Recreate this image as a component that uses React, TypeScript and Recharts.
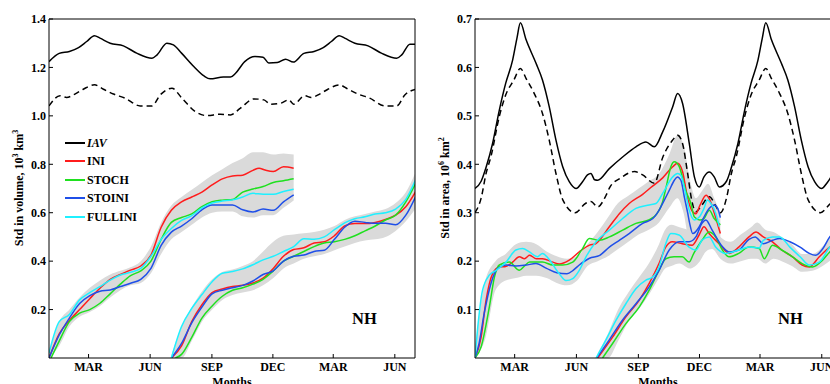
import React from 'react';
import { ComposedChart, Line, Area, XAxis, YAxis } from 'recharts';

type Pt = [number, number];
type Band = [number, number, number];

// x is in months from 1 Jan (18 months shown), y is the std
const X_MAX = 17.95;
const MONTH_TICKS = [1.94, 4.96, 7.99, 10.98, 13.94, 16.96];
const MONTH_LABELS = ['MAR', 'JUN', 'SEP', 'DEC', 'MAR', 'JUN'];
const VOL_TICKS = [0.2, 0.4, 0.6, 0.8, 1.0, 1.2, 1.4];
const AREA_TICKS = [0.1, 0.2, 0.3, 0.4, 0.5, 0.6, 0.7];

const SERIES_NAMES = ['IAV', 'INI', 'STOCH', 'STOINI', 'FULLINI'];
const SERIES_COLORS = ['#000000', '#ff1c1c', '#1fe01f', '#1f4fe8', '#1ff0ff'];
const BAND_COLOR = '#dadada';

// ---- volume panel ----
const volIavSolid: Pt[] = [[0,1.224],[0.5,1.258],[1,1.266],[1.45,1.282],[1.85,1.307],[2.23,1.331],[2.5,1.321],[3,1.3],[3.65,1.289],[4.3,1.259],[5.05,1.238],[5.3,1.252],[5.78,1.3],[6.1,1.293],[6.5,1.259],[7.1,1.204],[7.6,1.165],[7.9,1.153],[8.55,1.16],[8.9,1.16],[9.15,1.176],[9.6,1.224],[10.1,1.245],[10.5,1.242],[10.78,1.218],[11.2,1.22],[11.6,1.234],[11.98,1.222],[12.5,1.258],[13,1.266],[13.45,1.282],[13.85,1.307],[14.23,1.331],[14.5,1.321],[15,1.3],[15.65,1.289],[16.3,1.259],[17.05,1.238],[17.3,1.252],[17.7,1.296],[18,1.296]];
const volIavDashed: Pt[] = [[0,1.041],[0.54,1.083],[0.86,1.076],[1.27,1.09],[1.68,1.11],[2.23,1.128],[2.67,1.11],[3.16,1.09],[3.73,1.073],[4.47,1.041],[5.05,1.041],[5.46,1.087],[6.03,1.114],[6.52,1.073],[7.17,1.018],[7.74,1.001],[8.4,1.007],[8.9,1.004],[9.39,1.032],[10.05,1.07],[10.54,1.066],[10.86,1.048],[11.35,1.052],[11.76,1.066],[12,1.048],[12.54,1.083],[12.86,1.076],[13.27,1.09],[13.68,1.11],[14.23,1.128],[14.67,1.11],[15.16,1.09],[15.73,1.073],[16.47,1.041],[17.05,1.041],[17.46,1.087],[18,1.11]];

const volIniA: Pt[] = [[0,0],[0.5,0.1],[1,0.155],[1.5,0.2],[2,0.245],[2.5,0.288],[3,0.325],[3.5,0.345],[4,0.363],[4.5,0.38],[5,0.425],[5.5,0.54],[6,0.61],[6.5,0.645],[7,0.665],[7.5,0.685],[8,0.715],[8.5,0.74],[9,0.752],[9.5,0.755],[10,0.775],[10.3,0.784],[10.6,0.776],[11,0.77],[11.5,0.79],[12,0.784]];
const volStochA: Pt[] = [[0.1,0],[0.5,0.07],[1,0.15],[1.5,0.185],[2,0.2],[2.5,0.226],[3,0.265],[3.5,0.305],[4,0.34],[4.5,0.36],[5,0.4],[5.5,0.49],[6,0.56],[6.5,0.58],[7,0.595],[7.5,0.625],[8,0.645],[8.5,0.652],[9,0.655],[9.5,0.685],[10,0.698],[10.5,0.708],[11,0.725],[11.5,0.732],[12,0.74]];
const volStoiniA: Pt[] = [[0,0],[0.5,0.095],[1,0.165],[1.5,0.225],[2,0.258],[2.5,0.276],[3,0.281],[3.5,0.295],[4,0.309],[4.5,0.325],[5,0.37],[5.5,0.465],[6,0.52],[6.5,0.545],[7,0.575],[7.5,0.612],[8,0.632],[8.5,0.632],[9,0.632],[9.5,0.612],[10,0.603],[10.5,0.615],[11,0.61],[11.5,0.645],[12,0.674]];
const volFulliniA: Pt[] = [[0,0.02],[0.5,0.15],[1,0.18],[1.5,0.24],[2,0.27],[2.5,0.295],[3,0.322],[3.5,0.343],[4,0.354],[4.5,0.37],[5,0.42],[5.5,0.49],[6,0.535],[6.5,0.568],[7,0.588],[7.5,0.62],[8,0.64],[8.5,0.648],[9,0.653],[9.5,0.665],[10,0.68],[10.5,0.676],[11,0.676],[11.5,0.688],[12,0.697]];
const volBandA: Band[] = [[0,0,0.02],[0.5,0.05,0.15],[1,0.13,0.2],[1.5,0.17,0.25],[2,0.19,0.29],[2.5,0.215,0.32],[3,0.25,0.345],[3.5,0.28,0.36],[4,0.3,0.375],[4.5,0.31,0.4],[5,0.35,0.46],[5.5,0.43,0.56],[6,0.49,0.63],[6.5,0.52,0.665],[7,0.55,0.695],[7.5,0.58,0.725],[8,0.6,0.755],[8.5,0.605,0.78],[9,0.605,0.805],[9.5,0.585,0.825],[10,0.58,0.85],[10.5,0.59,0.85],[11,0.59,0.84],[11.5,0.62,0.845],[12,0.65,0.84]];

const volIniB: Pt[] = [[6,0],[6.5,0.05],[7,0.15],[7.5,0.22],[8,0.27],[8.5,0.285],[9,0.295],[9.5,0.3],[10,0.31],[10.5,0.33],[11,0.37],[11.5,0.42],[12,0.448],[12.5,0.455],[13,0.475],[13.5,0.48],[14,0.505],[14.5,0.545],[15,0.555],[15.5,0.555],[16,0.56],[16.5,0.572],[17,0.59],[17.5,0.625],[18,0.69]];
const volStochB: Pt[] = [[6.2,0],[6.5,0.015],[7,0.085],[7.5,0.165],[8,0.215],[8.5,0.255],[9,0.28],[9.5,0.29],[10,0.305],[10.5,0.325],[11,0.36],[11.5,0.4],[12,0.42],[12.5,0.44],[13,0.46],[13.5,0.475],[14,0.48],[14.5,0.49],[15,0.505],[15.5,0.525],[16,0.545],[16.5,0.57],[17,0.59],[17.5,0.645],[18,0.725]];
const volStoiniB: Pt[] = [[6,0],[6.5,0.06],[7,0.145],[7.5,0.21],[8,0.265],[8.5,0.28],[9,0.29],[9.5,0.3],[10,0.318],[10.5,0.345],[11,0.36],[11.5,0.4],[12,0.42],[12.5,0.425],[13,0.44],[13.5,0.445],[14,0.49],[14.5,0.54],[15,0.565],[15.5,0.56],[16,0.556],[16.5,0.556],[17,0.55],[17.5,0.59],[18,0.67]];
const volFulliniB: Pt[] = [[6,0],[6.5,0.13],[7,0.205],[7.5,0.262],[8,0.315],[8.5,0.35],[9,0.357],[9.5,0.368],[10,0.385],[10.5,0.405],[11,0.42],[11.5,0.44],[12,0.46],[12.5,0.492],[13,0.49],[13.5,0.5],[14,0.53],[14.5,0.558],[15,0.575],[15.5,0.583],[16,0.595],[16.5,0.6],[17,0.615],[17.5,0.655],[18,0.74]];
const volBandB: Band[] = [[6,0,0.01],[6.5,0,0.13],[7,0.07,0.21],[7.5,0.15,0.275],[8,0.2,0.325],[8.5,0.24,0.355],[9,0.26,0.365],[9.5,0.27,0.38],[10,0.28,0.4],[10.5,0.3,0.44],[11,0.33,0.48],[11.5,0.37,0.505],[12,0.39,0.51],[12.5,0.41,0.515],[13,0.42,0.52],[13.5,0.43,0.53],[14,0.445,0.545],[14.5,0.46,0.57],[15,0.475,0.585],[15.5,0.485,0.595],[16,0.49,0.605],[16.5,0.5,0.615],[17,0.525,0.64],[17.5,0.565,0.685],[18,0.62,0.77]];

// ---- area panel ----
const areaIavSolid: Pt[] = [[0,0.35],[0.3,0.365],[0.55,0.395],[0.86,0.443],[1.19,0.512],[1.5,0.567],[1.84,0.615],[2.05,0.66],[2.22,0.692],[2.5,0.657],[2.98,0.609],[3.3,0.574],[3.63,0.519],[3.96,0.45],[4.29,0.395],[4.61,0.364],[4.94,0.35],[5.26,0.364],[5.5,0.378],[5.67,0.381],[5.85,0.368],[6,0.367],[6.57,0.391],[7.22,0.415],[7.87,0.436],[8.36,0.446],[8.77,0.436],[9.18,0.467],[9.67,0.519],[9.91,0.546],[10.15,0.526],[10.48,0.443],[10.73,0.374],[10.97,0.353],[11.2,0.374],[11.46,0.384],[11.7,0.374],[11.95,0.353],[12.3,0.365],[12.55,0.395],[12.86,0.443],[13.19,0.512],[13.5,0.567],[13.84,0.615],[14.05,0.66],[14.22,0.692],[14.5,0.657],[14.98,0.609],[15.3,0.574],[15.63,0.519],[15.96,0.45],[16.29,0.395],[16.61,0.364],[16.94,0.35],[17.26,0.364],[17.5,0.378],[17.67,0.381],[17.85,0.368],[18,0.367]];
const areaIavDashed: Pt[] = [[0,0.3],[0.3,0.33],[0.54,0.381],[0.78,0.416],[1.19,0.499],[1.5,0.543],[1.9,0.574],[2.22,0.598],[2.5,0.577],[2.9,0.546],[3.3,0.505],[3.63,0.45],[3.96,0.381],[4.3,0.326],[4.9,0.3],[5.4,0.319],[5.67,0.323],[6,0.312],[6.4,0.335],[6.6,0.353],[7.1,0.371],[7.8,0.385],[8.2,0.378],[8.77,0.361],[9.18,0.414],[9.67,0.45],[9.91,0.46],[10.15,0.443],[10.4,0.381],[10.6,0.326],[10.8,0.302],[11.1,0.316],[11.46,0.333],[11.8,0.312],[12,0.3],[12.3,0.33],[12.54,0.381],[12.78,0.416],[13.19,0.499],[13.5,0.543],[13.9,0.574],[14.22,0.598],[14.5,0.577],[14.9,0.546],[15.3,0.505],[15.63,0.45],[15.96,0.381],[16.3,0.326],[16.9,0.3],[17.4,0.319],[17.67,0.323],[18,0.312]];

const areaIniA: Pt[] = [[0,0],[0.3,0.043],[0.54,0.119],[0.86,0.174],[1.19,0.188],[1.5,0.189],[1.84,0.198],[2.17,0.209],[2.42,0.205],[2.67,0.212],[3,0.205],[3.3,0.205],[3.8,0.198],[4.12,0.194],[4.61,0.202],[5.1,0.219],[5.6,0.233],[5.9,0.236],[6.57,0.271],[7.06,0.298],[7.54,0.319],[8.2,0.338],[8.6,0.352],[9.18,0.372],[9.67,0.395],[9.91,0.402],[10.15,0.385],[10.4,0.33],[10.6,0.305],[10.8,0.298],[11,0.315],[11.3,0.336],[11.5,0.325],[11.7,0.3],[12,0.257]];
const areaStochA: Pt[] = [[0,0],[0.3,0.023],[0.7,0.105],[0.95,0.167],[1.19,0.192],[1.68,0.198],[2.17,0.181],[2.42,0.19],[2.67,0.198],[3.3,0.198],[3.8,0.192],[4.29,0.192],[4.78,0.198],[5.26,0.226],[5.59,0.247],[6.08,0.243],[6.57,0.25],[7.22,0.264],[7.87,0.278],[8.5,0.285],[8.9,0.298],[9.15,0.319],[9.35,0.353],[9.58,0.395],[9.75,0.405],[9.99,0.395],[10.3,0.346],[10.56,0.319],[10.73,0.291],[11,0.285],[11.2,0.288],[11.46,0.305],[11.7,0.288],[12,0.275]];
const areaStoiniA: Pt[] = [[0,0],[0.2,0.03],[0.45,0.092],[0.78,0.154],[1.11,0.185],[1.52,0.192],[2,0.19],[2.5,0.192],[2.98,0.195],[3.5,0.185],[4,0.176],[4.5,0.174],[4.8,0.181],[5.1,0.192],[5.6,0.206],[6.1,0.212],[6.57,0.229],[7.06,0.243],[7.54,0.257],[8.2,0.278],[8.7,0.288],[9,0.305],[9.26,0.326],[9.5,0.346],[9.75,0.367],[9.9,0.374],[10.07,0.367],[10.25,0.33],[10.4,0.3],[10.5,0.278],[10.65,0.257],[10.97,0.271],[11.2,0.291],[11.46,0.309],[11.7,0.316],[11.87,0.309],[12,0.29]];
const areaFulliniA: Pt[] = [[0,0],[0.12,0.057],[0.37,0.14],[0.7,0.171],[1.03,0.181],[1.52,0.198],[2,0.223],[2.33,0.226],[2.66,0.219],[3.06,0.209],[3.3,0.216],[3.6,0.205],[4.12,0.174],[4.45,0.16],[4.78,0.164],[5.1,0.181],[5.43,0.209],[5.92,0.24],[6.57,0.264],[7.22,0.288],[7.87,0.309],[8.52,0.316],[8.85,0.319],[9.18,0.34],[9.67,0.374],[9.91,0.381],[10.07,0.377],[10.3,0.34],[10.48,0.305],[10.73,0.285],[10.97,0.291],[11.2,0.309],[11.37,0.326],[11.54,0.319],[11.78,0.298],[11.95,0.271]];
const areaBandA: Band[] = [[0,0,0.02],[0.5,0.04,0.16],[1,0.14,0.2],[1.5,0.16,0.215],[2,0.165,0.235],[2.5,0.17,0.24],[3,0.17,0.235],[3.5,0.165,0.22],[4,0.155,0.21],[4.5,0.15,0.205],[5,0.16,0.21],[5.5,0.19,0.235],[6,0.2,0.26],[6.5,0.21,0.29],[7,0.225,0.32],[7.5,0.24,0.335],[8,0.255,0.35],[8.5,0.265,0.365],[9,0.28,0.38],[9.5,0.31,0.42],[9.9,0.33,0.46],[10.2,0.3,0.44],[10.5,0.24,0.37],[10.8,0.235,0.33],[11.1,0.25,0.345],[11.4,0.27,0.36],[11.7,0.26,0.33],[12,0.24,0.3]];

const areaIniB: Pt[] = [[6,0],[6.73,0.043],[7.38,0.085],[8.03,0.119],[8.52,0.154],[9,0.195],[9.33,0.229],[9.65,0.24],[10.14,0.236],[10.63,0.233],[10.96,0.254],[11.2,0.271],[11.45,0.257],[11.94,0.236],[12.44,0.216],[12.9,0.229],[13.4,0.25],[13.75,0.26],[14.1,0.25],[14.55,0.24],[15,0.223],[15.53,0.209],[16,0.192],[16.35,0.188],[16.84,0.209],[17.35,0.229],[18,0.245]];
const areaStochB: Pt[] = [[6.24,0],[6.73,0.03],[7.38,0.071],[8.03,0.105],[8.52,0.14],[9,0.181],[9.33,0.205],[9.74,0.209],[10.14,0.209],[10.47,0.198],[10.7,0.216],[11.1,0.243],[11.45,0.26],[11.77,0.25],[12.1,0.223],[12.42,0.209],[12.9,0.216],[13.4,0.229],[13.9,0.226],[14.15,0.205],[14.55,0.233],[15,0.223],[15.53,0.209],[16,0.195],[16.5,0.188],[17,0.202],[17.35,0.219],[18,0.235]];
const areaStoiniB: Pt[] = [[5.95,0],[6.56,0.037],[7.21,0.078],[7.87,0.112],[8.52,0.147],[9,0.181],[9.5,0.223],[9.98,0.24],[10.47,0.24],[10.8,0.25],[11.1,0.278],[11.29,0.285],[11.6,0.264],[12.1,0.23],[12.42,0.219],[12.9,0.223],[13.4,0.245],[13.7,0.25],[14.1,0.236],[14.55,0.243],[14.9,0.247],[15.4,0.24],[15.9,0.229],[16.35,0.216],[16.66,0.212],[17,0.225],[17.35,0.25],[18,0.27]];
const areaFulliniB: Pt[] = [[5.92,0],[6.4,0.037],[6.9,0.078],[7.38,0.112],[7.87,0.143],[8.36,0.161],[8.68,0.167],[9,0.188],[9.33,0.236],[9.58,0.257],[9.98,0.254],[10.47,0.229],[10.8,0.223],[11.1,0.243],[11.45,0.25],[11.77,0.229],[12.26,0.216],[12.9,0.223],[13.4,0.229],[13.9,0.227],[14.1,0.243],[14.55,0.25],[14.9,0.25],[15.4,0.229],[15.9,0.209],[16.35,0.192],[16.84,0.198],[17.35,0.229],[18,0.25]];
const areaBandB: Band[] = [[6,0,0.01],[6.5,0,0.05],[7,0.035,0.1],[7.5,0.075,0.135],[8,0.1,0.165],[8.5,0.13,0.195],[9,0.165,0.235],[9.3,0.185,0.265],[9.6,0.19,0.275],[10,0.195,0.27],[10.5,0.185,0.265],[11,0.2,0.285],[11.3,0.22,0.3],[11.6,0.225,0.285],[12,0.205,0.25],[12.5,0.195,0.24],[13,0.2,0.255],[13.5,0.205,0.27],[13.8,0.205,0.28],[14.2,0.195,0.265],[14.6,0.205,0.26],[15,0.2,0.25],[15.5,0.19,0.235],[16,0.178,0.215],[16.5,0.18,0.215],[17,0.19,0.23],[17.5,0.205,0.26],[18,0.22,0.28]];

const FONT = '"Liberation Serif", "DejaVu Serif", serif';
const TICK_STYLE = { fill: '#000', fontSize: 12, fontWeight: 700, fontFamily: FONT };

const toPts = (p: Pt[]) => p.map(([m, v]) => ({ m, v }));
const toBand = (p: Band[]) => p.map(([m, lo, hi]) => ({ m, r: [lo, hi] }));

interface PanelProps {
  left: number;
  width: number;
  marginRight: number;
  yAxisWidth: number;
  yMax: number;
  yTicks: number[];
  iavSolid: Pt[];
  iavDashed: Pt[];
  bands: Band[][];
  sets: Pt[][][];
}

function Panel(p: PanelProps) {
  const common = { xAxisId: 'b', yAxisId: 'l', type: 'monotone' as const, dataKey: 'v', dot: false, activeDot: false, isAnimationActive: false, strokeWidth: 1.5 };
  return (
    <div style={{ position: 'absolute', left: p.left, top: 0 }}>
      <ComposedChart width={p.width} height={384} margin={{ top: 18, right: p.marginRight, bottom: 6, left: 19 }}>
        <XAxis xAxisId="b" type="number" dataKey="m" domain={[0, X_MAX]} allowDataOverflow ticks={MONTH_TICKS} interval={0}
          tickFormatter={(_v: number, i: number) => MONTH_LABELS[i]} tickSize={-4} tickMargin={8} height={20}
          stroke="#000" tick={TICK_STYLE} />
        <XAxis xAxisId="t" orientation="top" type="number" dataKey="m" domain={[0, X_MAX]} allowDataOverflow ticks={MONTH_TICKS}
          interval={0} tickSize={-4} height={1} stroke="#000" tick={false} />
        <YAxis yAxisId="l" type="number" domain={[0, p.yMax]} allowDataOverflow ticks={p.yTicks} interval={0}
          tickFormatter={(v: number) => v.toFixed(1)} tickSize={-4} tickMargin={7} width={p.yAxisWidth}
          stroke="#000" tick={TICK_STYLE} />
        <YAxis yAxisId="r" orientation="right" type="number" domain={[0, p.yMax]} allowDataOverflow ticks={p.yTicks}
          interval={0} tickSize={-4} width={1} stroke="#000" tick={false} />
        {p.bands.map((b, i) => (
          <Area key={'band' + i} data={toBand(b)} dataKey="r" xAxisId="b" yAxisId="l" type="monotone"
            stroke="none" fill={BAND_COLOR} fillOpacity={1} dot={false} activeDot={false} isAnimationActive={false} />
        ))}
        <Line {...common} data={toPts(p.iavSolid)} stroke={SERIES_COLORS[0]} />
        <Line {...common} data={toPts(p.iavDashed)} stroke={SERIES_COLORS[0]} strokeDasharray="6 4" />
        {p.sets.map((set, si) =>
          set.map((pts, k) => (
            <Line key={`s${si}-${k}`} {...common} data={toPts(pts)} stroke={SERIES_COLORS[k + 1]} />
          ))
        )}
      </ComposedChart>
    </div>
  );
}

function YTitle({ cx, text, power, sup2 }: { cx: number; text: string; power: string; sup2: string }) {
  return (
    <div style={{ position: 'absolute', left: cx, top: 188, transform: 'translate(-50%, -50%) rotate(-90deg)',
      whiteSpace: 'nowrap', fontSize: 12, fontWeight: 700, lineHeight: '14px' }}>
      {text}, 10<sup style={{ fontSize: 8 }}>{power}</sup> km<sup style={{ fontSize: 8 }}>{sup2}</sup>
    </div>
  );
}

function Legend() {
  return (
    <div style={{ position: 'absolute', left: 65, top: 0 }}>
      {SERIES_NAMES.map((name, i) => (
        <div key={name} style={{ position: 'absolute', left: 0, top: 135.7 + i * 18.5, height: 14, display: 'flex',
          alignItems: 'center', whiteSpace: 'nowrap' }}>
          <div style={{ width: 20, height: 2, background: SERIES_COLORS[i], marginRight: 2 }} />
          <span style={{ fontSize: 12, fontWeight: 700, lineHeight: '14px', fontStyle: i === 0 ? 'italic' : 'normal' }}>{name}</span>
        </div>
      ))}
    </div>
  );
}

const textAt = (left: number, top: number, size: number): React.CSSProperties => ({
  position: 'absolute', left, top, fontSize: size, fontWeight: 700, lineHeight: `${size}px`, whiteSpace: 'nowrap',
});

export default function App() {
  return (
    <div style={{ position: 'absolute', left: 0, top: 0, width: 830, height: 384, overflow: 'hidden',
      background: '#fff', fontFamily: FONT, color: '#000' }}>
      <Panel left={0} width={430} marginRight={14} yAxisWidth={30} yMax={1.4} yTicks={VOL_TICKS}
        iavSolid={volIavSolid} iavDashed={volIavDashed} bands={[volBandA, volBandB]}
        sets={[[volIniA, volStochA, volStoiniA, volFulliniA], [volIniB, volStochB, volStoiniB, volFulliniB]]} />
      <Panel left={430} width={430} marginRight={17} yAxisWidth={26} yMax={0.7} yTicks={AREA_TICKS}
        iavSolid={areaIavSolid} iavDashed={areaIavDashed} bands={[areaBandA, areaBandB]}
        sets={[[areaIniA, areaStochA, areaStoiniA, areaFulliniA], [areaIniB, areaStochB, areaStoiniB, areaFulliniB]]} />
      <YTitle cx={17} text="Std in volume" power="3" sup2="3" />
      <YTitle cx={443} text="Std in area" power="6" sup2="2" />
      <Legend />
      <div style={{ ...textAt(232, 376, 12), transform: 'translateX(-50%)' }}>Months</div>
      <div style={{ ...textAt(658, 376, 12), transform: 'translateX(-50%)' }}>Months</div>
      <div style={textAt(352, 311, 16.5)}>NH</div>
      <div style={textAt(778, 311, 16.5)}>NH</div>
    </div>
  );
}
